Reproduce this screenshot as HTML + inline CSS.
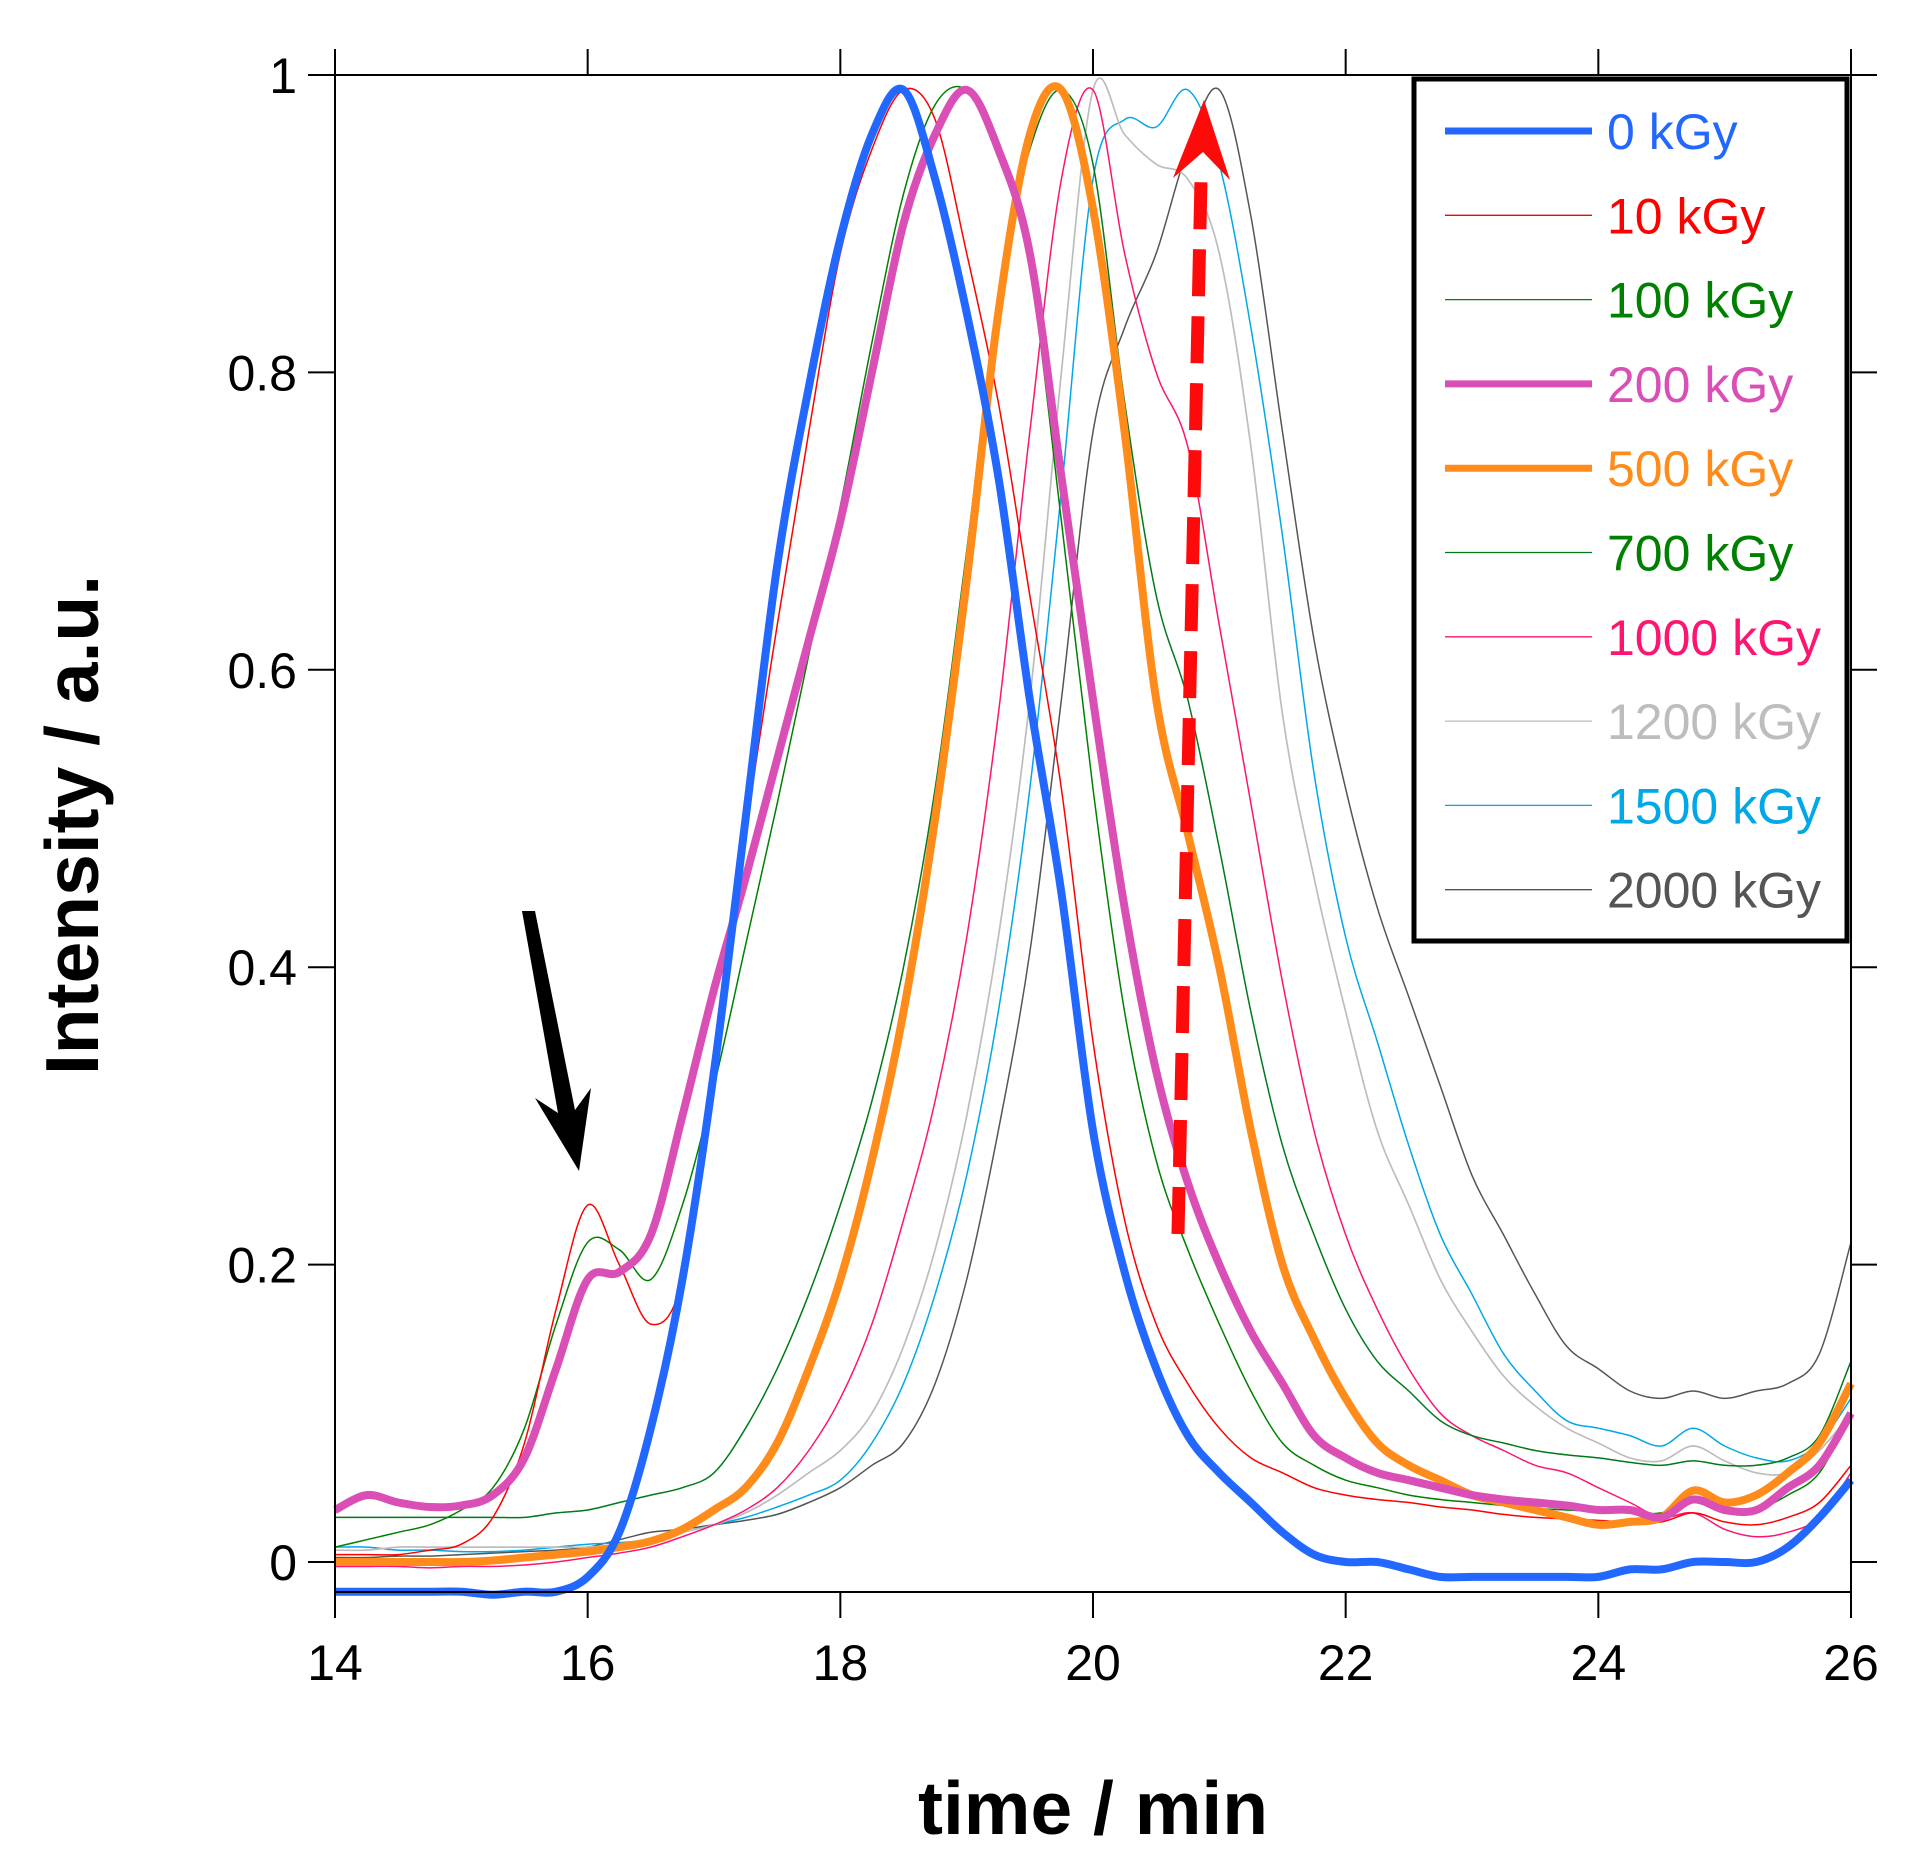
<!DOCTYPE html>
<html><head><meta charset="utf-8">
<style>
html,body{margin:0;padding:0;background:#fff;}
svg{display:block;font-family:"Liberation Sans",Arial,sans-serif;}
</style></head>
<body>
<svg id="chart" width="1922" height="1869" viewBox="0 0 1922 1869" xmlns="http://www.w3.org/2000/svg">
<rect x="0" y="0" width="1922" height="1869" fill="#fff"/>
<g id="series"></g>
<g id="axes"></g>
<polygon points="522,911 535,911 575,1110 591,1088 579,1171 535,1098 558,1113" fill="#000"/>
<g id="redarrow"></g>
<g id="legend"></g>
<text x="1093" y="1834" font-size="75" font-weight="bold" text-anchor="middle">time / min</text>
<text transform="translate(98,825) rotate(-90)" font-size="75" font-weight="bold" text-anchor="middle">Intensity / a.u.</text>
</svg>
<script>
const times = [14,14.25,14.5,14.75,15,15.25,15.5,15.75,16,16.25,16.5,16.75,17,17.25,17.5,17.75,18,18.25,18.5,18.75,19,19.25,19.5,19.75,20,20.25,20.5,20.75,21,21.25,21.5,21.75,22,22.25,22.5,22.75,23,23.25,23.5,23.75,24,24.25,24.5,24.75,25,25.25,25.5,25.75,26];
const seriesNames = ["0 kGy","10 kGy","100 kGy","200 kGy","500 kGy","700 kGy","1000 kGy","1200 kGy","1500 kGy","2000 kGy"];
const v0 = [-.02,-.02,-.02,-.02,-.02,-.022,-.02,-.02,-.01,.02,.09,.19,.33,.50,.67,.79,.89,.96,.99,.93,.84,.73,.58,.45,.29,.195,.13,.085,.06,.04,.02,.005,0,0,-.005,-.01,-.01,-.01,-.01,-.01,-.01,-.005,-.005,0,0,0,.01,.03,.055];
const v10 = [.005,.005,.005,.008,.012,.03,.08,.17,.24,.20,.16,.19,.33,.49,.63,.76,.88,.95,.99,.97,.88,.78,.65,.52,.35,.23,.16,.12,.09,.07,.06,.05,.045,.042,.04,.037,.035,.032,.03,.029,.028,.027,.027,.033,.027,.025,.03,.04,.065];
const v100 = [.01,.015,.02,.025,.035,.05,.09,.16,.215,.21,.19,.24,.32,.415,.51,.61,.71,.82,.92,.98,.99,.95,.87,.70,.52,.37,.27,.21,.16,.115,.08,.065,.055,.05,.045,.042,.04,.038,.036,.035,.034,.033,.033,.04,.034,.035,.045,.06,.10];
const v200 = [.035,.045,.04,.037,.038,.045,.07,.13,.19,.195,.22,.30,.385,.46,.54,.62,.70,.80,.90,.96,.99,.95,.88,.73,.58,.44,.33,.255,.20,.155,.12,.085,.07,.06,.055,.05,.045,.042,.04,.038,.035,.035,.03,.042,.035,.035,.05,.065,.10];
const v500 = [0,0,0,0,0,.001,.003,.005,.007,.01,.014,.022,.035,.05,.08,.13,.19,.27,.37,.50,.66,.84,.96,.99,.91,.76,.58,.49,.40,.29,.20,.15,.11,.08,.065,.055,.045,.04,.035,.03,.025,.027,.03,.048,.04,.045,.06,.08,.12];
const v700 = [.03,.03,.03,.03,.03,.03,.03,.033,.035,.04,.045,.05,.06,.09,.13,.18,.24,.31,.40,.52,.68,.85,.95,.99,.94,.78,.65,.58,.48,.37,.28,.22,.17,.135,.115,.095,.085,.08,.075,.072,.07,.067,.065,.068,.065,.065,.07,.085,.135];
const v1000 = [-.003,-.003,-.003,-.004,-.003,-.003,-.002,0,.003,.006,.01,.017,.025,.035,.05,.075,.11,.16,.23,.31,.42,.57,.76,.93,.99,.88,.80,.75,.63,.51,.39,.29,.22,.17,.13,.10,.085,.075,.065,.06,.05,.04,.03,.033,.022,.017,.02,.03,.06];
const v1200 = [.008,.008,.01,.01,.01,.01,.01,.01,.01,.012,.015,.02,.025,.033,.045,.06,.075,.10,.145,.21,.30,.42,.58,.80,.99,.96,.94,.93,.88,.75,.57,.46,.37,.29,.24,.19,.155,.125,.105,.09,.08,.07,.068,.078,.068,.06,.06,.075,.10];
const v1500 = [.01,.01,.008,.008,.007,.007,.008,.01,.012,.013,.015,.02,.025,.03,.037,.045,.055,.08,.12,.18,.26,.37,.52,.72,.93,.97,.965,.99,.94,.83,.69,.53,.42,.35,.28,.22,.18,.14,.115,.095,.09,.085,.078,.09,.078,.07,.068,.08,.11];
const v2000 = [.003,.003,.004,.004,.005,.006,.007,.008,.01,.015,.02,.022,.025,.028,.032,.04,.05,.065,.08,.12,.19,.29,.41,.58,.76,.83,.88,.95,.99,.905,.76,.62,.52,.44,.38,.32,.26,.22,.18,.145,.13,.115,.11,.115,.11,.115,.12,.14,.215];
const xTicks = [14,16,18,20,22,24,26];
const yTicks = [0,0.2,0.4,0.6,0.8,1];
const yTickLabels = ["0","0.2","0.4","0.6","0.8","1"];

const X0=335, X1=1851, Y0=1562, Y1=75;
function xs(t){return X0+(t-14)*(X1-X0)/12;}
function ys(v){return Y0-v*(Y0-Y1);}
const NS="http://www.w3.org/2000/svg";
function mk(tag,attrs,parent){const e=document.createElementNS(NS,tag);for(const k in attrs)e.setAttribute(k,attrs[k]);parent.appendChild(e);return e;}

const styles=[
 {c:"#2268ff",w:8},{c:"#ff0000",w:1.5},{c:"#008000",w:1.5},{c:"#d94fb5",w:8},{c:"#ff8c1a",w:8},
 {c:"#007a1a",w:1.5},{c:"#ff1470",w:1.5},{c:"#bdbdbd",w:1.7},{c:"#00a8e8",w:1.5},{c:"#555555",w:1.5}];
const values=[v0,v10,v100,v200,v500,v700,v1000,v1200,v1500,v2000];
const drawOrder=[9,8,7,6,5,2,1,4,3,0];

function pathFor(vals){
  const p=times.map((t,i)=>[xs(t),ys(vals[i])]);
  let d="M"+p[0][0].toFixed(1)+","+p[0][1].toFixed(1);
  for(let i=0;i<p.length-1;i++){
    const a=p[Math.max(0,i-1)],b=p[i],c=p[i+1],e=p[Math.min(p.length-1,i+2)];
    const c1=[b[0]+(c[0]-a[0])/6,b[1]+(c[1]-a[1])/6];
    const c2=[c[0]-(e[0]-b[0])/6,c[1]-(e[1]-b[1])/6];
    d+=" C"+c1[0].toFixed(1)+","+c1[1].toFixed(1)+" "+c2[0].toFixed(1)+","+c2[1].toFixed(1)+" "+c[0].toFixed(1)+","+c[1].toFixed(1);
  }
  return d;
}
const sg=document.getElementById("series");
drawOrder.forEach(i=>{
  const el=mk("path",{d:pathFor(values[i]),fill:"none",stroke:styles[i].c,"stroke-width":styles[i].w,"stroke-linejoin":"round"},sg);
  
  
});

const ag=document.getElementById("axes");
const frame=mk("rect",{x:X0,y:Y1,width:X1-X0,height:1592-Y1,fill:"none",stroke:"#000","stroke-width":2},ag);


xTicks.forEach(t=>{
  const x=xs(t);
  const tb=mk("line",{x1:x,y1:1592,x2:x,y2:1618,stroke:"#000","stroke-width":2},ag);
  
  
  const tt=mk("line",{x1:x,y1:49,x2:x,y2:Y1,stroke:"#000","stroke-width":2},ag);
  
  
  const lb=mk("text",{x:x,y:1680,"font-size":50,"text-anchor":"middle"},ag);
  lb.textContent=String(t);
  
  
});
yTicks.forEach((v,i)=>{
  const y=ys(v);
  const tl=mk("line",{x1:308,y1:y,x2:X0,y2:y,stroke:"#000","stroke-width":2},ag);
  
  
  const tr=mk("line",{x1:X1,y1:y,x2:1877,y2:y,stroke:"#000","stroke-width":2},ag);
  
  
  const lb=mk("text",{x:297,y:y+18,"font-size":50,"text-anchor":"end"},ag);
  lb.textContent=yTickLabels[i];
  
  
});

const rg=document.getElementById("redarrow");
const shaft=mk("line",{x1:1178,y1:1234,x2:1201,y2:180,stroke:"#ff0a0a","stroke-width":13,"stroke-dasharray":"47 20"},rg);


const head=mk("polygon",{points:"1204,100 1230,180 1203,152 1173,178",fill:"#ff0a0a"},rg);



const lg=document.getElementById("legend");
const box=mk("rect",{x:1414,y:79,width:433,height:862,fill:"#fff",stroke:"#000","stroke-width":5},lg);


const textColors=["#2268ff","#ff0000","#008000","#d94fb5","#ff8c1a","#008000","#ff1470","#bdbdbd","#00a8e8","#555555"];
seriesNames.forEach((n,i)=>{
  const y=131+i*84.3;
  const ln=mk("line",{x1:1445,y1:y,x2:1592,y2:y,stroke:styles[i].c,"stroke-width":styles[i].w>3?7:1.3},lg);
  
  
  const tx=mk("text",{x:1607,y:y+18,"font-size":50,fill:textColors[i]},lg);
  tx.textContent=n;
  
  
});
</script>
</body></html>
